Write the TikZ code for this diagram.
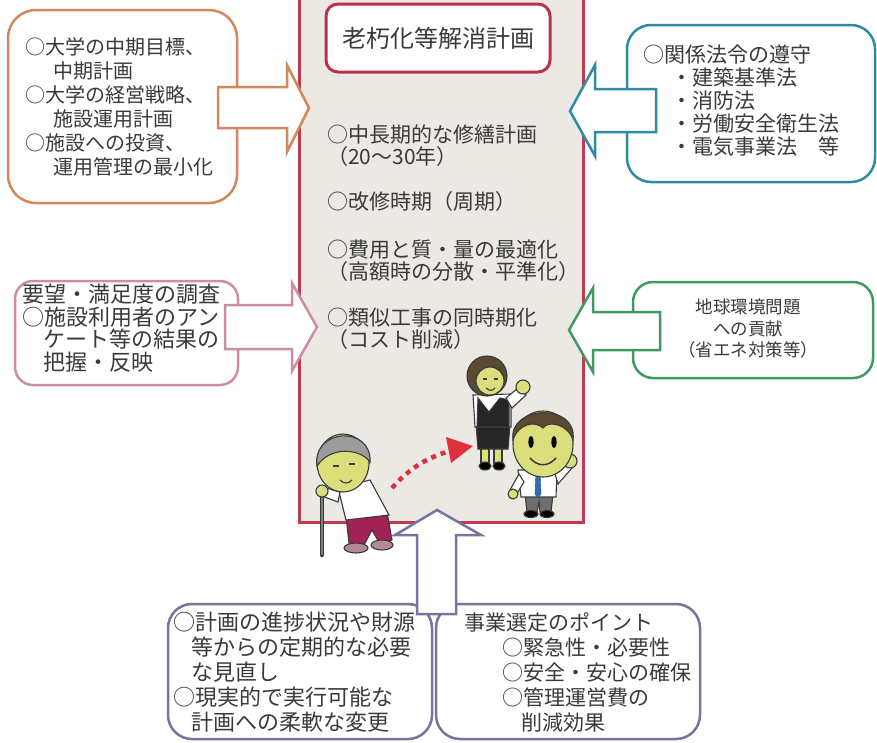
\documentclass[tikz,border=0pt]{standalone}
\usepackage{fontspec}
\setmainfont{Noto Sans CJK JP}
\usetikzlibrary{calc}

\definecolor{frameRed}{HTML}{C23A4E}
\definecolor{panelFill}{HTML}{ECE8E4}
\definecolor{titleRed}{HTML}{B8324F}
\definecolor{orangeLine}{HTML}{D4875A}
\definecolor{tealLine}{HTML}{2F8BA2}
\definecolor{pinkLine}{HTML}{CC8FA2}
\definecolor{greenLine}{HTML}{3F9A62}
\definecolor{slateLine}{HTML}{77759F}
\definecolor{ink}{HTML}{3A3A3A}
\definecolor{skin}{HTML}{DADF7C}
\definecolor{hairGray}{HTML}{9C9C9C}
\definecolor{hairBrown}{HTML}{5A4A32}
\definecolor{maroon}{HTML}{A32256}
\definecolor{shoeGray}{HTML}{B48A96}
\definecolor{tieBlue}{HTML}{2E6FB8}
\definecolor{trouserGray}{HTML}{6E6E6E}
\definecolor{dotRed}{HTML}{E0303E}

\newcommand{\fs}[2]{\fontsize{#1}{#2}\selectfont}

\tikzset{
  panel/.style={draw=frameRed, fill=panelFill, line width=3pt},
  titlebox/.style={draw=titleRed, fill=white, line width=3pt, rounded corners=12pt},
  infobox/.style={fill=white, line width=2.5pt, rounded corners=24pt},
  blockarrow/.style={fill=white, line width=2.5pt, line join=miter},
  txt/.style={inner sep=0pt, anchor=north west, align=left, text=ink},
  figline/.style={draw=ink, line width=1.1pt},
}

\begin{document}
\begin{tikzpicture}[x=1pt, y=-1pt]
\useasboundingbox (0,0) rectangle (877,742);
\clip (0,0) rectangle (877,742);
\fill[white] (0,0) rectangle (877,742);

% central plan panel
\draw[panel] (299,-6) rectangle (583,522);
\node[titlebox, minimum width=224pt, minimum height=68pt, inner sep=0pt,
  text=ink, font=\fs{24}{28}] (title) at (438,38) {老朽化等解消計画};

\node[txt, font=\fs{21}{22}] (item1) at (327,124.5) {○中長期的な修繕計画\\（20～30年）};
\node[txt, font=\fs{21}{22}] (item2) at (327,191.5) {○改修時期（周期）};
\node[txt, font=\fs{21}{22}] (item3) at (327,239.5) {○費用と質・量の最適化\\（高額時の分散・平準化）};
\node[txt, font=\fs{21}{22}] (item4) at (327,307.5) {○類似工事の同時期化\\（コスト削減）};

% ---- figures in the lower part of the panel ----
% elderly man with a cane
\draw[line width=4.5pt, draw=ink, line cap=round] (322,494) -- (322,555);
\draw[line width=2.5pt, draw=hairGray!80!black, line cap=round] (322,494) -- (322,554);
\filldraw[figline, fill=maroon] (346,516) -- (387,512) -- (392,540) -- (380,544)
  -- (372,530) -- (364,545) -- (349,543) -- cycle;
\filldraw[figline, fill=shoeGray] (356,548) ellipse (12 and 5);
\filldraw[figline, fill=shoeGray] (382,545) ellipse (11 and 5);
\filldraw[figline, fill=white] (338,488) -- (370,480) -- (389,515) -- (346,520) -- cycle;
\filldraw[figline, fill=white] (340,492) -- (326,488) -- (322,496) -- (338,502) -- cycle;
\filldraw[figline, fill=skin] (322,491) circle (6);
\filldraw[figline, fill=skin] (343,463) ellipse (26 and 29);
\filldraw[figline, fill=hairGray] (317,466) .. controls (312,428) and (372,425) .. (370,462)
  .. controls (360,448) and (330,446) .. (317,466) -- cycle;
\draw[figline] (333,466) -- (339,466) (349,464) -- (355,464);
\draw[figline] (340,480) .. controls (344,484) and (348,484) .. (352,480);

% red dotted arrow
\draw[dotRed, line width=4.5pt, dash pattern=on 5pt off 5pt]
  (392,488) .. controls (408,470) and (425,458) .. (450,451);
\fill[dotRed] (446,437) -- (473,446) -- (451,463) -- cycle;

% young woman
\filldraw[figline, fill=skin] (481,444) rectangle (489,463);
\filldraw[figline, fill=skin] (494,444) rectangle (502,463);
\filldraw[figline, fill=black] (485,466) ellipse (6 and 4);
\filldraw[figline, fill=black] (499,466) ellipse (6 and 4);
\filldraw[figline, fill=black!85] (476,424) -- (510,424) -- (508,449) -- (478,449) -- cycle;
\filldraw[figline, fill=white] (473,395) -- (511,394) -- (511,427) -- (475,427) -- cycle;
\filldraw[figline, fill=black!85] (478,398) -- (489,412) -- (500,398) -- (509,400) -- (509,427) -- (477,427) -- cycle;
\filldraw[figline, fill=white] (506,398) -- (518,388) -- (526,395) -- (512,408) -- cycle;
\filldraw[figline, fill=skin] (523,387) circle (7);
\filldraw[figline, fill=hairBrown] (487,376) circle (20);
\filldraw[figline, fill=skin] (490,381) ellipse (14 and 14);
\draw[figline] (483,379) -- (487,379) (494,379) -- (498,379);
\draw[figline] (486,388) .. controls (489,391) and (493,391) .. (495,388);

% young man
\filldraw[figline, fill=trouserGray] (525,494) -- (553,494) -- (551,512) -- (540,512)
  -- (539,502) -- (537,512) -- (527,512) -- cycle;
\filldraw[figline, fill=black] (531,514) ellipse (7 and 3.5);
\filldraw[figline, fill=black] (547,514) ellipse (7 and 3.5);
\filldraw[figline, fill=white] (518,470) -- (557,470) -- (556,497) -- (521,497) -- cycle;
\filldraw[figline, fill=white] (519,474) -- (510,490) -- (516,495) -- (524,482) -- cycle;
\filldraw[figline, fill=skin] (513,494) circle (5);
\filldraw[draw=tieBlue!70!black, fill=tieBlue] (536,472) -- (540,472) -- (541,494) -- (538,498) -- (535,494) -- cycle;
\filldraw[figline, fill=white] (555,474) -- (566,462) -- (572,468) -- (558,484) -- cycle;
\filldraw[figline, fill=skin] (570,461) circle (7);
\filldraw[figline, fill=skin] (543,444) ellipse (30 and 33);
\filldraw[figline, fill=hairBrown] (513,440) .. controls (508,405) and (578,402) .. (573,440)
  .. controls (568,424) and (548,420) .. (543,428) .. controls (535,420) and (518,424) .. (513,440) -- cycle;
\fill[black] (531,442) ellipse (2.6 and 6);
\fill[black] (554,442) ellipse (2.6 and 6);
\draw[figline, line width=1.5pt] (530,458) .. controls (538,467) and (548,467) .. (556,458);

% ---- surrounding factor boxes ----
\draw[infobox, draw=orangeLine, rounded corners=28pt] (8,10) rectangle (237,203);
\draw[infobox, draw=tealLine] (627,25) rectangle (875,182);
\draw[infobox, draw=pinkLine, rounded corners=18pt] (15,281) rectangle (238,385);
\draw[infobox, draw=greenLine, rounded corners=20pt] (633,282) rectangle (873,378);
\draw[infobox, draw=slateLine] (168,604) rectangle (432,739);
\draw[infobox, draw=slateLine] (436,604) rectangle (700,739);

% ---- block arrows into the panel ----
\draw[blockarrow, draw=orangeLine] (218,87) -- (287,87) -- (287,65) -- (309,108)
  -- (287,152) -- (287,128) -- (218,128) -- cycle;
\draw[blockarrow, draw=tealLine] (656,89) -- (595,89) -- (595,65) -- (570,111)
  -- (595,156) -- (595,132) -- (656,132) -- cycle;
\draw[blockarrow, draw=pinkLine] (225,305) -- (292,305) -- (292,283) -- (317,327)
  -- (292,371) -- (292,349) -- (225,349) -- cycle;
\draw[blockarrow, draw=greenLine] (660,312) -- (593,312) -- (593,288) -- (569,330)
  -- (593,372) -- (593,350) -- (660,350) -- cycle;
\draw[blockarrow, draw=slateLine] (417,614) -- (417,535) -- (395,535) -- (437,510)
  -- (481,535) -- (456,535) -- (456,614) -- cycle;

% ---- box texts ----
\node[txt, font=\fs{20}{24}] (goalsText) at (25,37) {○大学の中期目標、\\\hspace*{28pt}中期計画\\○大学の経営戦略、\\\hspace*{28pt}施設運用計画\\○施設への投資、\\\hspace*{28pt}運用管理の最小化};
\node[txt, font=\fs{21}{23}] (lawText) at (643,44.5) {○関係法令の遵守\\\hspace*{28pt}・建築基準法\\\hspace*{28pt}・消防法\\\hspace*{28pt}・労働安全衛生法\\\hspace*{28pt}・電気事業法　等};
\node[txt, font=\fs{22}{22.5}] (surveyText) at (22,284) {要望・満足度の調査\\○施設利用者のアン\\\hspace*{21pt}ケート等の結果の\\\hspace*{21pt}把握・反映};
\node[txt, anchor=north, align=center, font=\fs{17.5}{21.5}] (envText) at (748,299) {地球環境問題\\への貢献\\（省エネ対策等）};
\node[txt, font=\fs{22}{25}] (reviewText) at (173,612) {○計画の進捗状況や財源\\\hspace*{18pt}等からの定期的な必要\\\hspace*{18pt}な見直し\\○現実的で実行可能な\\\hspace*{18pt}計画への柔軟な変更};
\node[txt, font=\fs{21}{25}] (pointText) at (464,612.5) {事業選定のポイント\\\hspace*{38pt}○緊急性・必要性\\\hspace*{38pt}○安全・安心の確保\\\hspace*{38pt}○管理運営費の\\\hspace*{57pt}削減効果};
\end{tikzpicture}
\end{document}
